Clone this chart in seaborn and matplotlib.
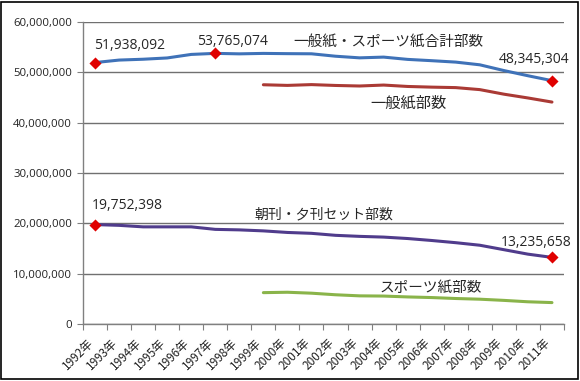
import numpy as np
import matplotlib
matplotlib.use("Agg")
import matplotlib.pyplot as plt
import matplotlib.transforms as mtransforms
import seaborn as sns
from matplotlib.ticker import FuncFormatter, FixedLocator

# =====================================================
# DATA
# =====================================================

years = list(range(1992, 2012))
year_labels = [f"{y}年" for y in years]

total = [51938092, 52433483, 52600052, 52854538, 53555648, 53765074,
         53669866, 53757281, 53708831, 53680756, 53198444, 52874959,
         53021564, 52568032, 52310478, 52028671, 51491409, 50352831,
         49321840, 48345304]

general = [np.nan] * 7 + [47530000, 47401669, 47559052, 47390027, 47282645,
                          47469995, 47189832, 47056527, 46963136, 46563681,
                          45659885, 44906720, 44091335]

sports = [np.nan] * 7 + [6230000, 6307162, 6121704, 5808417, 5592314,
                         5551569, 5378200, 5253951, 5065535, 4927728,
                         4692946, 4415120, 4254969]

morning_evening = [19752398, 19600000, 19300000, 19300000, 19300000, 18800000,
                   18700000, 18500000, 18187498, 18013000, 17617000, 17410000,
                   17265000, 16981000, 16591000, 16153000, 15647000, 14765000,
                   13877000, 13235658]

# labelled points: (series, year index)
marked = [(total, 0), (total, 5), (total, 19),
          (morning_evening, 0), (morning_evening, 19)]

# =====================================================
# STYLE
# =====================================================

sns.set_theme(style="white")
plt.rcParams["font.family"] = ["Noto Sans CJK JP", "DejaVu Sans"]
JP = ["Noto Sans CJK JP", "DejaVu Sans"]
NUM = ["Open Sans", "DejaVu Sans"]

fig = plt.figure(figsize=(5.8, 3.81), dpi=100)
ax = fig.add_axes([0.1431, 0.1496, 0.9724 - 0.1431, 0.9423 - 0.1496])

x = np.arange(len(years))

# =====================================================
# LINES
# =====================================================

sns.lineplot(x=x, y=total, ax=ax, color="#3f72b8", lw=2.2)
sns.lineplot(x=x, y=general, ax=ax, color="#aa3a35", lw=2.2)
sns.lineplot(x=x, y=morning_evening, ax=ax, color="#503c8c", lw=2.2)
sns.lineplot(x=x, y=sports, ax=ax, color="#8ab44a", lw=2.2)

mx = [i for _, i in marked]
my = [s[i] for s, i in marked]
sns.scatterplot(x=mx, y=my, ax=ax, marker="D", s=38, color="#e00000",
                edgecolor="#e00000", linewidth=0, zorder=5)

# =====================================================
# AXES
# =====================================================

ax.set_xlim(-0.5, len(years) - 0.5)
ax.set_ylim(0, 60000000)
ax.set_yticks(np.arange(0, 60000001, 10000000))
ax.yaxis.set_major_formatter(FuncFormatter(lambda v, p: f"{int(v):,}"))

ax.set_xticks(x)
ax.set_xticklabels(year_labels, rotation=45, ha="right",
                   rotation_mode="anchor", fontsize=8.5, family=JP)
ax.xaxis.set_minor_locator(FixedLocator(np.arange(-0.5, len(years), 1)))
ax.tick_params(axis="x", which="major", length=0, pad=9)
ax.tick_params(axis="x", which="minor", length=4, width=0.8,
               color="#808080", direction="out", bottom=True)
ax.tick_params(axis="y", length=4, width=0.8, color="#808080",
               direction="out", left=True, labelsize=8.2, pad=4)
for lab in ax.get_yticklabels():
    lab.set_family(NUM)
    lab.set_color("#222222")
shift = mtransforms.ScaledTranslation(-8 / 100, 0, fig.dpi_scale_trans)
for lab in ax.get_xticklabels():
    lab.set_color("#222222")
    lab.set_transform(lab.get_transform() + shift)

ax.grid(axis="y", color="#707070", lw=1)
ax.set_axisbelow(True)
for side in ["top", "right"]:
    ax.spines[side].set_visible(False)
ax.spines["left"].set_color("#808080")
ax.spines["bottom"].set_color("#808080")
ax.spines["left"].set_linewidth(1)
ax.spines["bottom"].set_linewidth(1)

# =====================================================
# TEXT
# =====================================================

ax.text(-0.04, 55270000, "51,938,092", fontsize=10, family=NUM, va="center")
ax.text(4.24, 56120000, "53,765,074", fontsize=10, family=NUM, va="center")
ax.text(16.8, 52600000, "48,345,304", fontsize=10, family=NUM, va="center")
ax.text(-0.13, 23460000, "19,752,398", fontsize=10, family=NUM, va="center")
ax.text(16.88, 16160000, "13,235,658", fontsize=10, family=NUM, va="center")

ax.text(12.2, 56100000, "一般紙・スポーツ紙合計部数", fontsize=10.5,
        family=JP, ha="center", va="center")
ax.text(13.05, 43900000, "一般紙部数", fontsize=11,
        family=JP, ha="center", va="center")
ax.text(9.5, 21700000, "朝刊・夕刊セット部数", fontsize=10,
        family=JP, ha="center", va="center")
ax.text(13.97, 7300000, "スポーツ紙部数", fontsize=10.5,
        family=JP, ha="center", va="center")

# outer border
fig.patches.append(plt.Rectangle((0.002, 0.004), 0.995, 0.992,
                                 transform=fig.transFigure, fill=False,
                                 edgecolor="black", lw=1.2))

fig.savefig("out.png", dpi=100)
